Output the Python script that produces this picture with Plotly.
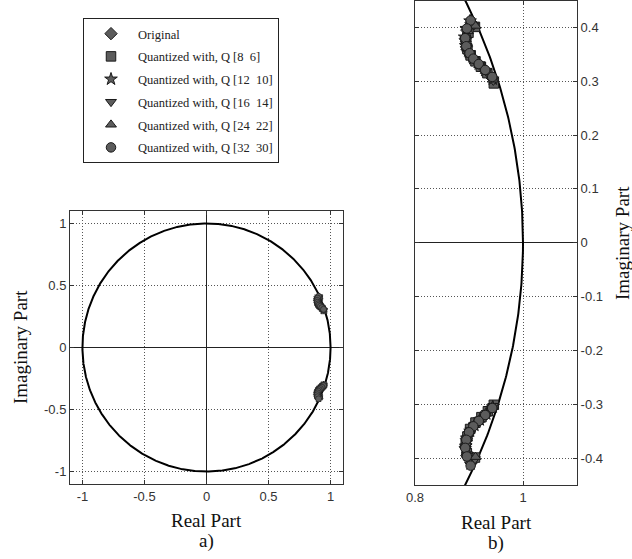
import numpy as np
import plotly.graph_objects as go

# ---------------- data (pole locations) ----------------
SERIES_NAMES = ["Original",
                "Quantized with, Q [8  6]",
                "Quantized with, Q [12  10]",
                "Quantized with, Q [16  14]",
                "Quantized with, Q [24  22]",
                "Quantized with, Q [32  30]"]
SYMBOLS = ["diamond", "square", "star", "triangle-down", "triangle-up", "circle"]

ORIG_RE = [0.904, 0.896, 0.893, 0.895, 0.901, 0.909, 0.919, 0.931, 0.943,
           0.943, 0.931, 0.919, 0.909, 0.901, 0.895, 0.893, 0.896, 0.904]
ORIG_IM = [0.409, 0.395, 0.379, 0.364, 0.351, 0.340, 0.330, 0.319, 0.306,
           -0.306, -0.319, -0.330, -0.340, -0.351, -0.364, -0.379, -0.395, -0.409]

Q8_RE = [0.911, 0.899, 0.895, 0.897, 0.903, 0.912, 0.922, 0.934, 0.946,
         0.946, 0.935, 0.923, 0.912, 0.902, 0.897, 0.894, 0.896, 0.911]
Q8_IM = [0.401, 0.390, 0.374, 0.360, 0.348, 0.337, 0.327, 0.315, 0.296,
         -0.301, -0.313, -0.324, -0.334, -0.346, -0.360, -0.375, -0.391, -0.399]

Q12_RE = [0.902, 0.895, 0.892, 0.894, 0.900, 0.908, 0.918, 0.930, 0.944,
          0.944, 0.932, 0.920, 0.910, 0.902, 0.896, 0.894, 0.897, 0.903]
Q12_IM = [0.412, 0.398, 0.382, 0.366, 0.353, 0.342, 0.332, 0.320, 0.304,
          -0.305, -0.318, -0.329, -0.339, -0.350, -0.363, -0.378, -0.394, -0.411]

Q16_RE = [0.909, 0.897, 0.894, 0.896, 0.902, 0.910, 0.920, 0.932, 0.945,
          0.945, 0.933, 0.921, 0.910, 0.903, 0.897, 0.895, 0.897, 0.911]
Q16_IM = [0.404, 0.394, 0.377, 0.362, 0.350, 0.339, 0.329, 0.318, 0.301,
          -0.303, -0.316, -0.328, -0.338, -0.348, -0.362, -0.377, -0.393, -0.402]

Q24_RE = [0.912, 0.898, 0.894, 0.895, 0.901, 0.909, 0.919, 0.931, 0.944,
          0.944, 0.931, 0.919, 0.909, 0.901, 0.896, 0.894, 0.898, 0.912]
Q24_IM = [0.403, 0.393, 0.378, 0.363, 0.351, 0.340, 0.330, 0.319, 0.303,
          -0.304, -0.317, -0.329, -0.339, -0.349, -0.363, -0.378, -0.392, -0.398]

Q32_RE = [0.903, 0.896, 0.893, 0.895, 0.901, 0.908, 0.918, 0.930, 0.943,
          0.943, 0.930, 0.918, 0.908, 0.900, 0.895, 0.893, 0.896, 0.903]
Q32_IM = [0.413, 0.398, 0.380, 0.365, 0.352, 0.342, 0.332, 0.321, 0.308,
          -0.307, -0.320, -0.331, -0.341, -0.352, -0.366, -0.381, -0.397, -0.414]

SERIES_RE = [ORIG_RE, Q8_RE, Q12_RE, Q16_RE, Q24_RE, Q32_RE]
SERIES_IM = [ORIG_IM, Q8_IM, Q12_IM, Q16_IM, Q24_IM, Q32_IM]

LEFT_TICKS = [-1, -0.5, 0, 0.5, 1]
LEFT_TICK_LABELS = ["-1", "-0.5", "0", "0.5", "1"]
RIGHT_X_TICKS = [0.8, 1]
RIGHT_X_TICK_LABELS = ["0.8", "1"]
RIGHT_Y_TICKS = [-0.4, -0.3, -0.2, -0.1, 0, 0.1, 0.2, 0.3, 0.4]
RIGHT_Y_TICK_LABELS = ["-0.4", "-0.3", "-0.2", "-0.1", "0", "0.1", "0.2", "0.3", "0.4"]

# ---------------- figure ----------------
W, H = 632, 559
fig = go.Figure()

theta = np.linspace(0, 2 * np.pi, 1441)
circ_x, circ_y = np.cos(theta), np.sin(theta)

for xa, ya in (("x", "y"), ("x2", "y2")):
    fig.add_trace(go.Scatter(x=circ_x, y=circ_y, mode="lines",
                             line=dict(color="black", width=2),
                             showlegend=False, hoverinfo="skip",
                             xaxis=xa, yaxis=ya))

FILL = "#5c5c5c"
EDGE = "#1a1a1a"
for i, (name, sym, re, im) in enumerate(zip(SERIES_NAMES, SYMBOLS, SERIES_RE, SERIES_IM)):
    fig.add_trace(go.Scatter(x=re, y=im, mode="markers", name=name,
                             marker=dict(symbol=sym, size=6, color=FILL,
                                         line=dict(color=EDGE, width=0.6)),
                             showlegend=False, xaxis="x", yaxis="y"))
    fig.add_trace(go.Scatter(x=re, y=im, mode="markers", name=name,
                             legendgroup=f"g{i}",
                             marker=dict(symbol=sym, size=9.5, color=FILL,
                                         line=dict(color=EDGE, width=1)),
                             showlegend=True, xaxis="x2", yaxis="y2"))

TICKFONT = dict(family="Liberation Sans, Arial, sans-serif", size=13, color="#333")
SERIF = "Liberation Serif, Times New Roman, serif"

common = dict(showline=True, linecolor="#333", linewidth=1, mirror="allticks",
              ticks="inside", ticklen=4, tickcolor="#333", automargin=False,
              showgrid=True, gridcolor="#555", griddash="1px,2px", gridwidth=1,
              zeroline=True, zerolinecolor="#222", zerolinewidth=1.2,
              tickfont=TICKFONT, fixedrange=True)

def px_dom_x(a, b):
    return [a / W, b / W]

def px_dom_y(top, bottom):
    return [(H - bottom) / H, (H - top) / H]

fig.update_layout(
    width=W, height=H,
    margin=dict(l=0, r=0, t=0, b=0, autoexpand=False),
    paper_bgcolor="white", plot_bgcolor="white",
    xaxis=dict(domain=px_dom_x(70, 343), range=[-1.1, 1.1],
               tickvals=LEFT_TICKS, ticktext=LEFT_TICK_LABELS, anchor="y", **common),
    yaxis=dict(domain=px_dom_y(211, 484), range=[-1.1, 1.1],
               tickvals=LEFT_TICKS, ticktext=LEFT_TICK_LABELS, anchor="x", **common),
    xaxis2=dict(domain=px_dom_x(415, 577), range=[0.8, 1.1],
                tickvals=RIGHT_X_TICKS, ticktext=RIGHT_X_TICK_LABELS, anchor="y2", **common),
    yaxis2=dict(domain=px_dom_y(0.5, 485), range=[-0.45, 0.45],
                tickvals=RIGHT_Y_TICKS, ticktext=RIGHT_Y_TICK_LABELS,
                anchor="x2", side="right", **common),
    legend=dict(x=83 / W, y=1 - 18 / H, xanchor="left", yanchor="top",
                bordercolor="#222", borderwidth=1, bgcolor="white",
                font=dict(family=SERIF, size=12.5, color="#222"),
                itemwidth=44, tracegroupgap=3.5),
    showlegend=True,
)

ann = []
def label(text, x, y, angle=0, size=19):
    ann.append(dict(text=text, x=x / W, y=1 - y / H, xref="paper", yref="paper",
                    showarrow=False, textangle=angle,
                    font=dict(family=SERIF, size=size, color="#111"),
                    xanchor="center", yanchor="middle"))

label("Real Part", 206, 520)
label("a)", 206, 541)
label("Imaginary Part", 20, 347, angle=-90)
label("Real Part", 496, 522)
label("b)", 496, 543)
label("Imaginary Part", 622, 243, angle=-90)
fig.update_layout(annotations=ann)

fig.write_html("out.html", config={"displayModeBar": False},
               post_script="document.body.style.margin='0';document.body.style.overflow='hidden';")
